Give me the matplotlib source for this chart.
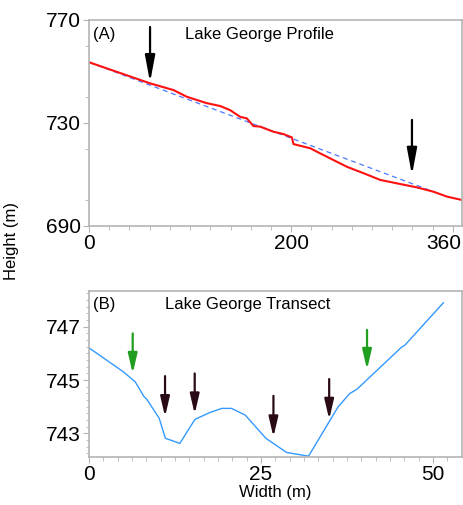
import matplotlib
matplotlib.use("Agg")
import matplotlib.pyplot as plt
from matplotlib.ticker import MultipleLocator, FixedLocator
from matplotlib.transforms import ScaledTranslation
import numpy as np

plt.rcParams['font.family'] = ['Liberation Sans', 'DejaVu Sans']

# perfil (A)
perfilX = [0, 60.4, 83.5, 96.7, 116.5, 129.7, 139.6, 149.5, 156.1, 162.7, 169.3, 182.5,
           192.4, 200.7, 202.3, 218.8, 228.7, 248.5, 255.1, 271.6, 288.1, 307.9, 324.4,
           340.9, 354.2, 369]
perfilY = [753.6, 745.4, 742.8, 740.2, 737.7, 736.6, 735.0, 732.4, 731.8, 728.8, 728.6, 726.6,
           725.7, 724.4, 721.8, 720.2, 718.2, 714.3, 713.0, 710.5, 707.9, 706.3, 705.0,
           703.3, 701.4, 700.1]
rectaX = [0, 341]
rectaY = [753.6, 703.3]
flechasA = [(60.4, 767.3, 745.8), (319.5, 731.2, 709.8)]   # x, desde, hasta

# transecto (B)
transX = [0, 5.0, 6.7, 8.0, 8.4, 10.2, 11.1, 13.2, 15.4, 17.6, 19.3, 20.7, 22.7, 25.7,
          28.7, 31.9, 36.2, 37.9, 38.9, 45.4, 45.9, 51.5]
transY = [746.21, 745.31, 744.94, 744.38, 744.28, 743.57, 742.82, 742.63, 743.53, 743.79,
          743.94, 743.94, 743.69, 742.82, 742.29, 742.15, 744.0, 744.5, 744.65, 746.23,
          746.31, 747.9]
flechasVerdes = [(6.35, 746.75, 745.25), (40.4, 746.88, 745.4)]
flechasOscuras = [(11.05, 745.15, 743.63), (15.36, 745.25, 743.73),
                  (26.8, 744.41, 742.87), (34.9, 745.04, 743.53)]

gris = '#b4b4b4'

def estilo(ax):
    for s in ax.spines.values():
        s.set_color(gris)
        s.set_linewidth(1.2)
    ax.tick_params(which='both', direction='out', color=gris, labelsize=15, pad=2)
    ax.tick_params(which='major', length=4)
    ax.tick_params(which='minor', length=3)

def flecha(ax, x, y0, y1, color, hl, hw):
    ax.annotate('', xy=(x, y1), xytext=(x, y0),
                arrowprops=dict(arrowstyle='-|>,head_length=%s,head_width=%s' % (hl, hw),
                                color=color, lw=1.6, mutation_scale=20,
                                shrinkA=0, shrinkB=0))

fig = plt.figure(figsize=(4.63, 5.05), dpi=100)

ax1 = fig.add_axes([89/463, 1-226/505, 373/463, 206/505])
ax1.plot(rectaX, rectaY, color='#4a7aff', lw=0.9, ls=(0, (4, 3)))
ax1.plot(perfilX, perfilY, color='#ff1010', lw=1.5)
for x, a, b in flechasA:
    flecha(ax1, x, a, b, 'black', 0.8, 0.15)
ax1.set_xlim(0, 369)
ax1.set_ylim(690, 770)
ax1.set_xticks([0, 200, 360])
ax1.set_yticks([690, 730, 770])
ax1.xaxis.set_minor_locator(MultipleLocator(20))
ax1.yaxis.set_minor_locator(MultipleLocator(20))
estilo(ax1)
# la etiqueta 360 va corrida a la izquierda como en el original
lab = ax1.get_xticklabels()[-1]
lab.set_transform(lab.get_transform() + ScaledTranslation(-0.09, 0, fig.dpi_scale_trans))
ax1.text(0.01, 0.965, '(A)', transform=ax1.transAxes, fontsize=12, va='top')
ax1.text(0.258, 0.965, 'Lake George Profile', transform=ax1.transAxes, fontsize=12, va='top')

ax2 = fig.add_axes([89/463, 1-456.7/505, 373/463, 165.7/505])
ax2.plot(transX, transY, color='#3399ff', lw=1.0)
for x, a, b in flechasVerdes:
    flecha(ax2, x, a, b, '#1f9e1f', 0.6, 0.14)
for x, a, b in flechasOscuras:
    flecha(ax2, x, a, b, '#2a0a16', 0.6, 0.14)
ax2.set_xlim(0, 54.2)
ax2.set_ylim(742.13, 748.34)
ax2.set_xticks([0, 25, 50])
ax2.set_yticks([743, 745, 747])
ax2.xaxis.set_minor_locator(FixedLocator(np.arange(0, 54, 25/12)))
ax2.yaxis.set_minor_locator(MultipleLocator(0.25))
estilo(ax2)
ax2.tick_params(which='minor', axis='y', length=2)
ax2.text(0.01, 0.965, '(B)', transform=ax2.transAxes, fontsize=12, va='top')
ax2.text(0.204, 0.965, 'Lake George Transect', transform=ax2.transAxes, fontsize=12, va='top')
ax2.set_xlabel('Width (m)', fontsize=12, labelpad=1)

fig.text(12/463, 1-241/505, 'Height (m)', rotation=90, fontsize=12, ha='center', va='center')

fig.savefig('out.png', dpi=100)
